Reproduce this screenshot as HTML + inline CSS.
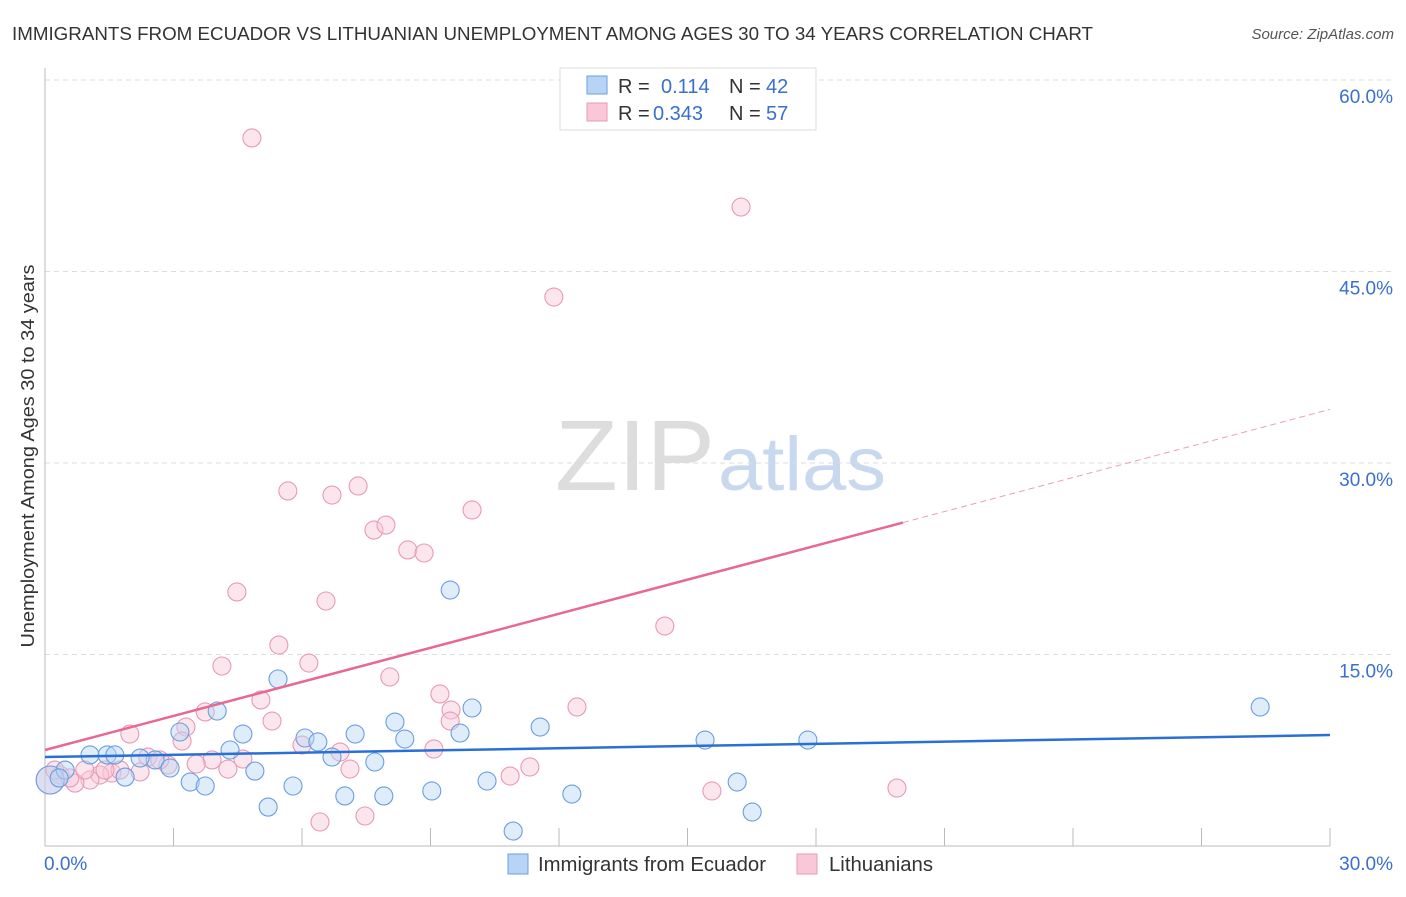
<!DOCTYPE html>
<html><head><meta charset="utf-8"><style>
body{margin:0;background:#fff;font-family:"Liberation Sans",sans-serif}
svg text{font-family:"Liberation Sans",sans-serif}
</style></head><body>
<svg id="c" width="1406" height="892">
<text x="12" y="40" font-size="18.5" fill="#333" textLength="1081" lengthAdjust="spacingAndGlyphs">IMMIGRANTS FROM ECUADOR VS LITHUANIAN UNEMPLOYMENT AMONG AGES 30 TO 34 YEARS CORRELATION CHART</text>
<text x="1394" y="39" font-size="15" fill="#555" font-style="italic" text-anchor="end">Source: ZipAtlas.com</text>
<text x="34" y="456" font-size="18" fill="#333" text-anchor="middle" textLength="383" lengthAdjust="spacingAndGlyphs" transform="rotate(-90 34 456)">Unemployment Among Ages 30 to 34 years</text>
<text x="555" y="490" font-size="100" fill="#ddd" font-family="Liberation Serif" textLength="160" lengthAdjust="spacingAndGlyphs">ZIP</text>
<text x="718" y="490" font-size="76" fill="#c8d8ee" textLength="168" lengthAdjust="spacingAndGlyphs">atlas</text>
<g id="grid"></g><g id="marks"></g>
<g>
<rect x="560" y="68" width="256" height="62" fill="#fff" stroke="#ddd"/>
<rect x="587" y="76" width="20" height="18" fill="#b8d4f5" stroke="#6a9ee0"/>
<rect x="587" y="103" width="20" height="18" fill="#f9c8d8" stroke="#e89ab4"/>
<text x="618" y="93" font-size="20" fill="#333">R = </text><text x="661" y="93" font-size="20" fill="#3a6fd0">0.114</text>
<text x="729" y="93" font-size="20" fill="#333">N = </text><text x="766" y="93" font-size="20" fill="#3a6fd0">42</text>
<text x="618" y="120" font-size="20" fill="#333">R = </text><text x="653" y="120" font-size="20" fill="#3a6fd0">0.343</text>
<text x="729" y="120" font-size="20" fill="#333">N = </text><text x="766" y="120" font-size="20" fill="#3a6fd0">57</text>
</g>
<g>
<rect x="508" y="854" width="20" height="20" fill="#b8d4f5" stroke="#6a9ee0"/>
<text x="538" y="871" font-size="20" fill="#333" textLength="228" lengthAdjust="spacingAndGlyphs">Immigrants from Ecuador</text>
<rect x="797" y="854" width="20" height="20" fill="#f9c8d8" stroke="#e89ab4"/>
<text x="829" y="871" font-size="20" fill="#333" textLength="104" lengthAdjust="spacingAndGlyphs">Lithuanians</text>
</g>
</svg>
<script>
const yTicks=[15,30,45,60];
const yTickLabels=["15.0%","30.0%","45.0%","60.0%"];
const xTicks=[0,3,6,9,12,15,18,21,24,27,30];
const blueX=[0.12,0.47,1.05,1.45,1.63,1.87,2.57,2.92,3.15,3.39,3.74,4.02,4.32,4.62,4.90,5.21,5.44,5.79,6.07,6.37,6.70,7.00,7.24,7.70,7.91,8.17,8.40,9.03,9.46,9.69,9.97,10.32,10.93,11.56,12.30,15.41,16.16,16.51,17.81,28.37,0.33,2.22];
const blueY=[5.17,5.95,7.13,7.13,7.13,5.40,6.74,6.11,8.93,5.01,4.70,10.57,7.52,8.77,5.87,3.05,13.08,4.70,8.46,8.15,6.97,3.92,8.77,6.58,3.92,9.71,8.38,4.31,20.05,8.85,10.81,5.09,1.17,9.32,4.07,8.30,5.01,2.66,8.30,10.89,5.33,6.89];
const pinkX=[4.83,16.25,11.88,5.67,6.70,7.31,7.68,7.96,8.47,8.85,9.97,4.48,6.56,5.46,4.13,6.16,14.47,8.05,5.04,9.22,9.48,9.46,12.42,3.74,5.30,1.98,3.29,3.20,6.00,6.89,9.08,3.90,4.27,4.62,3.53,2.40,2.87,7.12,2.22,1.56,1.28,1.05,0.70,0.35,0.12,11.32,10.86,15.57,19.89,6.42,7.47,0.23,1.75,2.68,0.58,0.93,1.40];
const pinkY=[55.46,50.05,43.0,27.81,27.49,28.2,24.75,25.14,23.19,22.95,26.32,19.9,19.19,15.74,14.10,14.33,17.23,13.24,11.44,11.91,10.65,9.79,10.89,10.50,9.79,8.77,9.32,8.22,7.91,7.36,7.60,6.74,6.03,6.81,6.42,6.97,6.34,6.03,5.80,5.72,5.56,5.17,4.93,5.56,5.17,6.19,5.48,4.31,4.54,1.88,2.35,5.95,5.95,6.74,5.33,5.95,5.95];
const blueTrend=[6.97,8.69];
const pinkTrend=[7.52,34.2];
const pinkSolidEnd=20.03;
const X=v=>45+v/30*1285, Y=v=>846-v/60*766;
const NS="http://www.w3.org/2000/svg";
const g=document.getElementById('grid'), m=document.getElementById('marks');
function mk(tag,at,parent){const e=document.createElementNS(NS,tag);for(const k in at)e.setAttribute(k,at[k]);parent.appendChild(e);return e;}
yTicks.forEach((t,i)=>{
 const l=mk('line',{x1:45,x2:1392,y1:Y(t),y2:Y(t),stroke:'#ddd','stroke-dasharray':'5,4'},g);
 
 
 const tx=mk('text',{x:1393,y:Y(t)+23,'font-size':19,fill:'#3a6fd0','text-anchor':'end'},g);
 tx.textContent=yTickLabels[i];
 
 
});
const ax=mk('path',{d:'M45 68V846H1330',fill:'none',stroke:'#bbb'},g);


xTicks.forEach(t=>{if(t===0)return;const l=mk('line',{x1:X(t),x2:X(t),y1:828,y2:846,stroke:'#bbb'},g);
 
 });
const x0=mk('text',{x:44,y:870,'font-size':19,fill:'#3a6fd0'},g);x0.textContent='0.0%';


const x1=mk('text',{x:1393,y:870,'font-size':19,fill:'#3a6fd0','text-anchor':'end'},g);x1.textContent='30.0%';


function pts(xs,ys,fill,stroke,name){xs.forEach((v,i)=>{
 const c=mk('circle',{cx:X(v),cy:Y(ys[i]),r:(i===0&&name==='blue-point')||(i===44&&name==='pink-point')?14:9,fill:fill,'fill-opacity':0.45,stroke:stroke,'stroke-width':1.1},m);
 
 });}
pts(pinkX,pinkY,'#f9c8d8','#e89ab4','pink-point');
pts(blueX,blueY,'#b8d4f5','#6a9ee0','blue-point');
const slope=(pinkTrend[1]-pinkTrend[0])/30, pe=pinkTrend[0]+slope*pinkSolidEnd;
const bl=mk('line',{x1:X(0),y1:Y(blueTrend[0]),x2:X(30),y2:Y(blueTrend[1]),stroke:'#2a6fd6','stroke-width':2.5},m);


const pl=mk('line',{x1:X(0),y1:Y(pinkTrend[0]),x2:X(pinkSolidEnd),y2:Y(pe),stroke:'#e8688f','stroke-width':2.5},m);


const pd=mk('line',{x1:X(pinkSolidEnd),y1:Y(pe),x2:X(30),y2:Y(pinkTrend[1]),stroke:'#e8a0b8','stroke-width':1,'stroke-dasharray':'6,4'},m);


</script>
</body></html>
